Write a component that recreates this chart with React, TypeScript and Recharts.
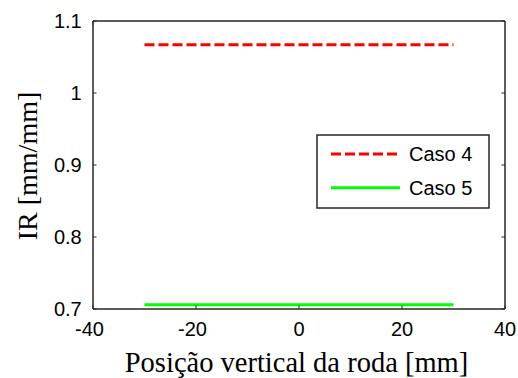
import React from 'react';
import { LineChart, Line, XAxis, YAxis } from 'recharts';

const positions = [-30, 30];
const caso4Values = [1.067, 1.067];
const caso5Values = [0.706, 0.706];
const xTicks = [-40, -20, 0, 20, 40];
const yTicks = [0.7, 0.8, 0.9, 1, 1.1];
const seriesNames = ['Caso 4', 'Caso 5'];
const seriesColors = ['#ff0000', '#00ff00'];
const xLabel = 'Posição vertical da roda [mm]';
const yLabel = 'IR [mm/mm]';

const data = positions.map((x, i) => ({ x, c4: caso4Values[i], c5: caso5Values[i] }));

const W = 518;
const H = 378;
const LEFT_W = 93;
const RIGHT_W = 13;
const TOP_H = 21;
const BOTTOM_H = 69;
const PLOT_L = LEFT_W;
const PLOT_R = W - RIGHT_W;
const PLOT_T = TOP_H;
const PLOT_B = H - BOTTOM_H;
const TICK_LEN = 3.5;
const AXIS_COLOR = '#262626';
const SANS = '"Liberation Sans", Arial, Helvetica, sans-serif';
const SERIF = '"Liberation Serif", "Times New Roman", Times, serif';

const XTick = (props: any) => {
  const { payload } = props;
  const v = payload.value as number;
  const cx = payload.coordinate as number;
  const shift = v < 0 ? -3.5 : 0;
  return (
    <g>
      <line x1={cx} x2={cx} y1={PLOT_B} y2={PLOT_B - TICK_LEN} stroke={AXIS_COLOR} strokeWidth={1} />
      <text x={cx + shift} y={PLOT_B + 26.7} textAnchor="middle" fontFamily={SANS} fontSize={20} fill="#000">
        {String(v)}
      </text>
    </g>
  );
};

const XTopTick = (props: any) => {
  const cx = props.payload.coordinate as number;
  return <line x1={cx} x2={cx} y1={PLOT_T} y2={PLOT_T + TICK_LEN} stroke={AXIS_COLOR} strokeWidth={1} />;
};

const YTick = (props: any) => {
  const { payload } = props;
  const v = payload.value as number;
  const cy = payload.coordinate as number;
  return (
    <g>
      <line x1={PLOT_L} x2={PLOT_L + TICK_LEN} y1={cy} y2={cy} stroke={AXIS_COLOR} strokeWidth={1} />
      <text x={PLOT_L - 11.3} y={cy + 7} textAnchor="end" fontFamily={SANS} fontSize={20} fill="#000">
        {String(v)}
      </text>
    </g>
  );
};

const YRightTick = (props: any) => {
  const cy = props.payload.coordinate as number;
  return <line x1={PLOT_R} x2={PLOT_R - TICK_LEN} y1={cy} y2={cy} stroke={AXIS_COLOR} strokeWidth={1} />;
};

const YLabel = () => (
  <text
    x={36.7}
    y={166}
    transform="rotate(-90, 36.7, 166)"
    textAnchor="middle"
    fontFamily={SERIF}
    fontSize={28}
    fill="#000"
  >
    {yLabel}
  </text>
);

const XLabel = () => (
  <text x={296.5} y={371.7} textAnchor="middle" fontFamily={SERIF} fontSize={28.5} fill="#000">
    {xLabel}
  </text>
);

const LegendBox = () => (
  <svg
    width={174}
    height={75}
    style={{ position: 'absolute', left: 316, top: 134, overflow: 'visible' }}
  >
    <rect x={1} y={1} width={172} height={73} fill="#fff" stroke={AXIS_COLOR} strokeWidth={1.5} />
    {seriesNames.map((name, i) => {
      const cy = 20 + i * 33.7;
      return (
        <g key={name}>
          <line
            x1={15}
            x2={84}
            y1={cy}
            y2={cy}
            stroke={seriesColors[i]}
            strokeWidth={3}
            strokeDasharray={i === 0 ? '10 4' : undefined}
          />
          <text x={93} y={cy + 7.2} fontFamily={SANS} fontSize={20} fill="#000">
            {name}
          </text>
        </g>
      );
    })}
  </svg>
);

export default function App() {
  return (
    <div style={{ position: 'relative', width: W, height: H, overflow: 'hidden' }}>
      <style>{'html, body { margin: 0; padding: 0; overflow: hidden; }'}</style>
      <LineChart width={W} height={H} data={data} margin={{ top: 0, right: 0, left: 0, bottom: 0 }}>
        <XAxis
          dataKey="x"
          type="number"
          domain={[-40, 40]}
          ticks={xTicks}
          allowDataOverflow
          height={BOTTOM_H}
          tickLine={false}
          tick={XTick}
          axisLine={{ stroke: AXIS_COLOR, strokeWidth: 1.5 }}
          label={XLabel}
        />
        <XAxis
          xAxisId="top"
          orientation="top"
          type="number"
          domain={[-40, 40]}
          ticks={xTicks}
          allowDataOverflow
          height={TOP_H}
          tickLine={false}
          tick={XTopTick}
          axisLine={{ stroke: AXIS_COLOR, strokeWidth: 1.5 }}
        />
        <YAxis
          type="number"
          domain={[0.7, 1.1]}
          ticks={yTicks}
          allowDataOverflow
          width={LEFT_W}
          tickLine={false}
          tick={YTick}
          axisLine={{ stroke: AXIS_COLOR, strokeWidth: 1.5 }}
          label={YLabel}
        />
        <YAxis
          yAxisId="right"
          orientation="right"
          type="number"
          domain={[0.7, 1.1]}
          ticks={yTicks}
          allowDataOverflow
          width={RIGHT_W}
          tickLine={false}
          tick={YRightTick}
          axisLine={{ stroke: AXIS_COLOR, strokeWidth: 1.5 }}
        />
        <Line
          dataKey="c4"
          name={seriesNames[0]}
          stroke={seriesColors[0]}
          strokeWidth={3}
          strokeDasharray="10 4"
          dot={false}
          activeDot={false}
          isAnimationActive={false}
        />
        <Line
          dataKey="c5"
          name={seriesNames[1]}
          stroke={seriesColors[1]}
          strokeWidth={3}
          dot={false}
          activeDot={false}
          isAnimationActive={false}
        />
      </LineChart>
      <LegendBox />
    </div>
  );
}
